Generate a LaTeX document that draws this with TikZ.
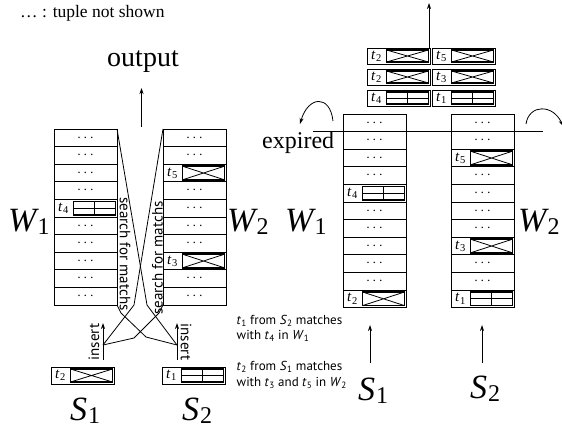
\documentclass[tikz,border=0pt]{standalone}
\usepackage{fontspec}
\setmainfont{Liberation Serif}
\newfontfamily\notefont{PT Sans}
\usetikzlibrary{arrows.meta}

\tikzset{
  cellline/.style={line width=0.8pt},
  tupbox/.style={line width=1.5pt},
  beam/.style={line width=0.8pt},
  arr/.style={line width=0.8pt, -{Stealth[length=6pt,width=4pt]}},
  dots/.style={inner sep=0pt, font=\fontsize{14}{14}\selectfont},
  tlabel/.style={inner sep=0pt, font=\fontsize{15}{15}\selectfont},
  biglabel/.style={inner sep=0pt, anchor=base west},
  note/.style={inner sep=0pt, anchor=base west, font=\notefont\fontsize{13}{15}\selectfont},
  vnote/.style={inner sep=0pt, font=\notefont\fontsize{15}{15}\selectfont},
}

\newcommand{\rowh}{17.6}
\newcommand{\tsub}[1]{\textit{t}\kern0.5pt\textsubscript{#1}}
% big window / stream labels
\newcommand{\winlab}[2]{{\fontsize{34}{34}\selectfont\itshape #1}\kern1pt\raisebox{-3pt}{\fontsize{24}{24}\selectfont #2}}

% tuple cell: x, y (top left), height, label, kind
\newcommand{\tupcross}[3]{\draw[cellline] (#1+19.5,#2+2) -- (#1+61.5,#2+#3-2) (#1+19.5,#2+#3-2) -- (#1+61.5,#2+2);}
\newcommand{\tupgrid}[3]{\draw[cellline] (#1+19.5,#2+#3/2) -- (#1+61.5,#2+#3/2) (#1+40.5,#2+2) -- (#1+40.5,#2+#3-2);}
\newcommand{\drawtuple}[5]{%
  \draw[cellline, fill=white] (#1,#2) rectangle ++(63,#3);
  \node[tlabel] at (#1+9.5,#2+#3/2) {\tsub{#4}};
  \draw[tupbox] (#1+19.5,#2+2) rectangle (#1+61.5,#2+#3-2);
  \csname tup#5\endcsname{#1}{#2}{#3}%
}
% window: x, y (top left), rows, rows holding a hidden tuple
\newcommand{\drawwindow}[4]{%
  \foreach \r in {1,...,#3} \draw[cellline] (#1,#2+\r*\rowh-\rowh) rectangle ++(63,\rowh);
  \foreach \r in {#4} \node[dots] at (#1+31.5,#2+\r*\rowh+\rowh/2) {$\cdots$};
}

\begin{document}
\begin{tikzpicture}[x=1pt, y=-1pt]
  \useasboundingbox (0,0) rectangle (562,429);

  \node[biglabel, font=\fontsize{17.5}{17.5}\selectfont] (legend) at (20,17.5) {\ldots{} : tuple not shown};

  % left: probing both windows
  \drawwindow{54}{129}{10}{0,1,2,3,5,6,7,8,9}
  \drawtuple{54}{129+4*\rowh}{\rowh}{4}{grid}
  \drawwindow{163}{129}{10}{0,1,3,4,5,6,8,9}
  \drawtuple{163}{129+2*\rowh}{\rowh}{5}{cross}
  \drawtuple{163}{129+7*\rowh}{\rowh}{3}{cross}

  \node[biglabel] (W1a) at (8,231) {\winlab{W}{1}};
  \node[biglabel] (W2a) at (227,231) {\winlab{W}{2}};

  % arriving tuples
  \drawtuple{51}{367}{17}{2}{cross}
  \drawtuple{162}{367}{17}{1}{grid}
  \node[biglabel] (S1a) at (70,420) {\winlab{S}{1}};
  \node[biglabel] (S2a) at (182,420) {\winlab{S}{2}};

  \coordinate (in1) at (103,360);  \coordinate (in1top) at (103,323);
  \coordinate (in2) at (177,360);  \coordinate (in2top) at (177,323);
  \draw[arr] (in1) -- (in1top);
  \draw[arr] (in2) -- (in2top);
  \node[vnote, rotate=90] (ins1) at (94,342) {insert};
  \node[vnote, rotate=-90] (ins2) at (186,342) {insert};

  % search beams
  \coordinate (hit1) at (103,345);
  \coordinate (hit2) at (177,345);
  \draw[beam] (117,129) -- (147,305) -- (hit2);
  \draw[beam] (117,305) -- (121,313) -- (146,337) -- (hit2);
  \draw[beam] (163,129) -- (134,305) -- (hit1);
  \draw[beam] (163,305) -- (159,313) -- (134,338) -- (hit1);
  \node[vnote, rotate=-90] (srch1) at (125,254) {search for matchs};
  \node[vnote, rotate=90] (srch2) at (157.5,258) {search for matchs};

  \node[inner sep=0pt, anchor=base, font=\fontsize{28}{28}\selectfont] (out) at (143,66) {output};
  \coordinate (outL) at (141.5,127);  \coordinate (outLtop) at (141.5,88);
  \draw[arr] (outL) -- (outLtop);

  \node[note] (n1) at (236.5,324) {\textit{t}\textsubscript{1} from \textit{S}\textsubscript{2} matches};
  \node[note] (n2) at (236.5,339.5) {with \textit{t}\textsubscript{4} in \textit{W}\textsubscript{1}};
  \node[note] (n3) at (236.5,370) {\textit{t}\textsubscript{2} from \textit{S}\textsubscript{1} matches};
  \node[note] (n4) at (236.5,386) {with \textit{t}\textsubscript{3} and \textit{t}\textsubscript{5} in \textit{W}\textsubscript{2}};

  % right: windows after the join
  \drawwindow{343}{114}{11}{0,1,2,3,5,6,7,8,9}
  \drawtuple{343}{114+4*\rowh}{\rowh}{4}{grid}
  \drawtuple{343}{114+10*\rowh}{\rowh}{2}{cross}
  \drawwindow{451}{114}{11}{0,1,3,4,5,6,8,9}
  \drawtuple{451}{114+2*\rowh}{\rowh}{5}{cross}
  \drawtuple{451}{114+7*\rowh}{\rowh}{3}{cross}
  \drawtuple{451}{114+10*\rowh}{\rowh}{1}{grid}

  \node[biglabel] (W1b) at (285,231) {\winlab{W}{1}};
  \node[biglabel] (W2b) at (518,231) {\winlab{W}{2}};
  \node[biglabel] (S1b) at (358,400) {\winlab{S}{1}};
  \node[biglabel] (S2b) at (470,398.5) {\winlab{S}{2}};

  \coordinate (src1) at (370,363);  \coordinate (src1top) at (370,325);
  \coordinate (src2) at (482,363);  \coordinate (src2top) at (482,325);
  \draw[arr] (src1) -- (src1top);
  \draw[arr] (src2) -- (src2top);

  % expiry
  \coordinate (expL) at (313,114+\rowh);  \coordinate (expR) at (543,114+\rowh);
  \draw[cellline] (expL) -- (expR);
  \node[biglabel, font=\fontsize{24}{24}\selectfont] (exp) at (262,148.5) {expired};
  \draw[arr] (333,121) .. controls (330,94) and (308,96) .. (300,124);
  \draw[arr] (526,124) .. controls (529,104) and (553,104) .. (563,126);

  % joined results
  \foreach \y/\a/\ka/\b/\kb in {48/2/cross/5/cross, 69/2/cross/3/cross, 90/4/grid/1/grid} {
    \drawtuple{367}{\y}{16}{\a}{\ka}
    \drawtuple{432}{\y}{16}{\b}{\kb}
  }
  \coordinate (res) at (429,48);  \coordinate (restop) at (429,3);
  \draw[arr] (res) -- (restop);
\end{tikzpicture}
\end{document}
